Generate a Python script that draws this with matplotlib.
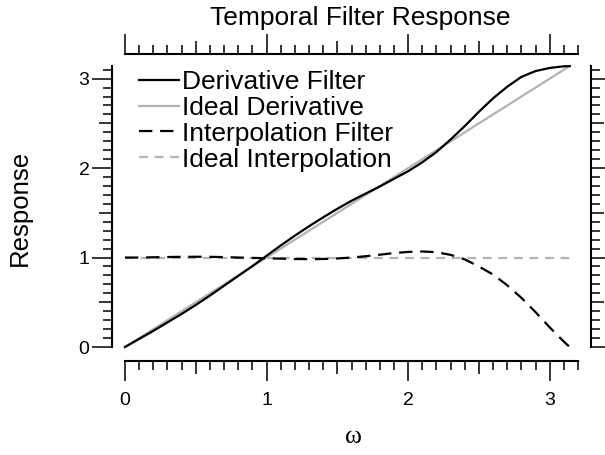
import numpy as np
import matplotlib
matplotlib.use("Agg")
import matplotlib.pyplot as plt
from matplotlib.ticker import MultipleLocator, FuncFormatter

# ---- data ----
omega = [0.0, 0.1, 0.2, 0.3, 0.4, 0.5, 0.6, 0.7, 0.8, 0.9, 1.0, 1.1, 1.2, 1.3,
         1.4, 1.5, 1.6, 1.7, 1.8, 1.9, 2.0, 2.1, 2.2, 2.3, 2.4, 2.5, 2.6, 2.7,
         2.8, 2.9, 3.0, 3.1, 3.1416]
deriv_filter = [0.0, 0.09, 0.18, 0.275, 0.37, 0.47, 0.575, 0.685, 0.795, 0.905,
                1.02, 1.135, 1.245, 1.35, 1.45, 1.545, 1.635, 1.715, 1.795,
                1.88, 1.965, 2.065, 2.18, 2.32, 2.47, 2.63, 2.78, 2.91, 3.02,
                3.085, 3.12, 3.138, 3.14]
interp_filter = [1.0, 1.0, 1.003, 1.006, 1.008, 1.009, 1.008, 1.005, 1.0, 0.996,
                 0.992, 0.988, 0.984, 0.982, 0.984, 0.99, 1.0, 1.015, 1.032, 1.05,
                 1.063, 1.068, 1.06, 1.03, 0.98, 0.90, 0.81, 0.69, 0.55, 0.39,
                 0.22, 0.06, 0.0]
ideal_x = [0.0, 3.1416]
ideal_deriv = [0.0, 3.1416]
ideal_interp = [1.0, 1.0]

labels = ["Derivative Filter", "Ideal Derivative", "Interpolation Filter",
          "Ideal Interpolation"]
title = "Temporal Filter Response"
xlabel = "\u03c9"
ylabel = "Response"

plt.rcParams['font.family'] = ['Liberation Sans', 'DejaVu Sans']

fig = plt.figure(figsize=(6.05, 4.55), dpi=100)
ax = fig.add_axes([125/605, 1-347/455, (578-125)/605, (347-66)/455])

gray = '#b3b3b3'
ax.plot(omega, deriv_filter, color='black', lw=1.6, label=labels[0],
        clip_on=False, zorder=4)
ax.plot(ideal_x, ideal_deriv, color=gray, lw=1.6, label=labels[1],
        clip_on=False, zorder=3)
ax.plot(omega, interp_filter, color='black', lw=1.6, ls=(0, (6, 3.5)),
        label=labels[2], clip_on=False, zorder=4)
ax.plot(ideal_x, ideal_interp, color=gray, lw=1.6, ls=(0, (4, 3)),
        label=labels[3], clip_on=False, zorder=3)

ax.set_xlim(0, 3.2)
ax.set_ylim(0, 3.1416)

for side, off in [('left', 9.1), ('bottom', 10), ('top', 8.3), ('right', 9.7)]:
    ax.spines[side].set_position(('outward', off))
    ax.spines[side].set_linewidth(1.5)

ax.xaxis.set_major_locator(MultipleLocator(0.5))
ax.xaxis.set_minor_locator(MultipleLocator(0.1))
ax.yaxis.set_major_locator(MultipleLocator(0.5))
ax.yaxis.set_minor_locator(MultipleLocator(0.1))
fmt = FuncFormatter(lambda v, p: "%d" % round(v) if abs(v - round(v)) < 1e-6 else "")
ax.xaxis.set_major_formatter(fmt)
ax.yaxis.set_major_formatter(fmt)

ax.tick_params(which='both', direction='out', top=True, right=True,
               labeltop=False, labelright=False, width=1.1, labelsize=14)
ax.tick_params(which='major', length=14.4)
ax.tick_params(which='minor', length=6.5)
ax.tick_params(axis='x', which='major', pad=8)
ax.tick_params(axis='y', which='major', pad=2)

fig.canvas.draw()
for axis in (ax.xaxis, ax.yaxis):
    locs = axis.get_majorticklocs()
    for loc, tk in zip(locs, axis.get_major_ticks(len(locs))):
        if abs(loc - round(loc)) > 1e-6:
            tk.tick1line.set_markersize(9.5)
            tk.tick2line.set_markersize(9.5)

leg = ax.legend(loc='upper left', bbox_to_anchor=(14/453, 1.0 - 4/281),
                frameon=False, fontsize=19, labelspacing=0.07,
                handlelength=1.5, handletextpad=0.12, borderaxespad=0,
                borderpad=0)

fig.text(360/605, 1-18/455, title, ha='center', va='center', fontsize=19)
fig.text(353/605, 1-437/455, xlabel, ha='center', va='center', fontsize=18.5,
         family=['Liberation Serif', 'DejaVu Serif'])
fig.text(20/605, 1-208/455, ylabel, ha='center', va='center', fontsize=18.5,
         rotation=90)

fig.savefig("out.png", dpi=100)
